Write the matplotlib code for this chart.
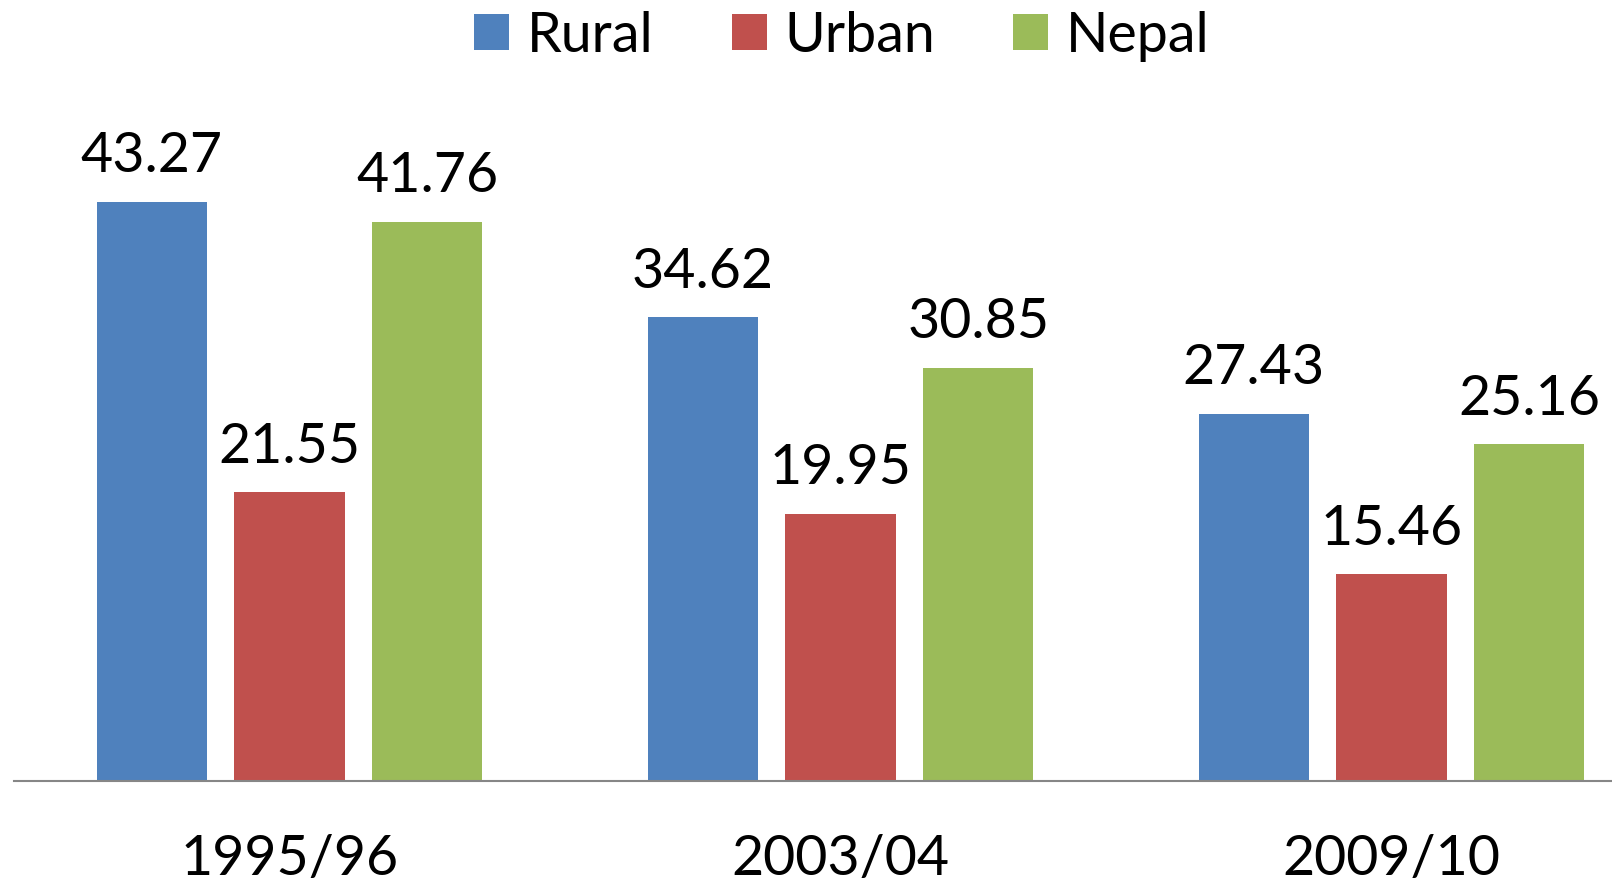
import matplotlib
matplotlib.use("Agg")
import matplotlib.pyplot as plt
import numpy as np

# data
years = ["1995/96", "2003/04", "2009/10"]
rural = [43.27, 34.62, 27.43]
urban = [21.55, 19.95, 15.46]
nepal = [41.76, 30.85, 25.16]

series = [("Rural", rural, "#4F81BD"),
          ("Urban", urban, "#C0504D"),
          ("Nepal", nepal, "#9BBB59")]

plt.rcParams['font.family'] = ['Lato', 'DejaVu Sans']

fig = plt.figure(figsize=(16.12, 8.92), dpi=100)
W, H = 1612, 892
# axes: left edge at x=14px, baseline at y=781px from top
ax = fig.add_axes([14 / W, (H - 781) / H, (W - 14) / W, 781 / H])

x = np.arange(len(years))
width = 0.2
step = 0.25

for i, (name, vals, col) in enumerate(series):
    bars = ax.bar(x + (i - 1) * step, vals, width, color=col, label=name)
    ax.bar_label(bars, fmt="%.2f", padding=14, fontsize=40)

ax.set_xlim(-0.5, 2.4)
ax.set_ylim(0, 58.33)
ax.set_xticks(x, years)
ax.tick_params(axis='x', length=0, pad=38, labelsize=40)
ax.set_yticks([])
for s in ["top", "left", "right"]:
    ax.spines[s].set_visible(False)
ax.spines["bottom"].set_color("#868686")
ax.spines["bottom"].set_linewidth(1.5)

fig.legend(loc="center", bbox_to_anchor=(842 / W, 1 - 36 / H), ncol=3,
           frameon=False, fontsize=40, handlelength=0.63, handleheight=0.63,
           handletextpad=0.32, columnspacing=1.4, borderaxespad=0, borderpad=0)

fig.savefig("out.png", dpi=100)
